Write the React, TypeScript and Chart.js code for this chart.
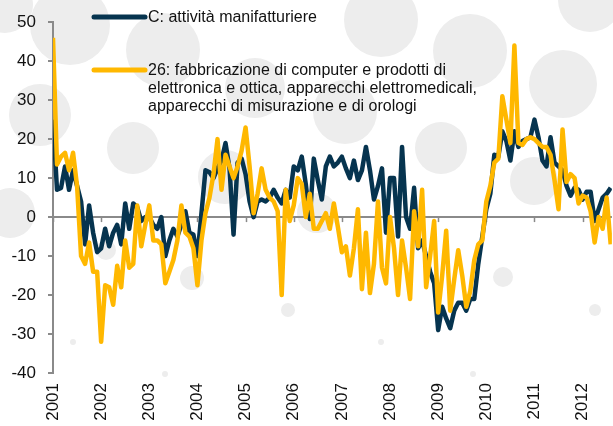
import React, { useEffect, useRef } from 'react';
import { Chart, registerables } from 'chart.js';

Chart.register(...registerables);

// Year tick labels (one tick every 12 months, starting January 2001)
const years = ['2001', '2002', '2003', '2004', '2005', '2006', '2007', '2008', '2009', '2010', '2011', '2012'];

// Series names (legend)
const navyName = 'C: attività manifatturiere';
const yellowNameLines = [
  '26: fabbricazione di computer e prodotti di',
  'elettronica e ottica, apparecchi elettromedicali,',
  'apparecchi di misurazione e di orologi',
];

// Monthly values, Jan 2001 .. Aug 2012
const navySeries = [
  25, 7, 7.5, 13, 7, 12, 8, 4, -7, 3, -4, -9,
  -8, -3, -7.5, -4, -2, -7, 3.5, -3, 3.5, 2.5, -1, 0,
  0, -2, -3, 0, -10, -6, -3, -5, -2, 1.5, -4, -4.5,
  -10, 1, 12, 11.5, 10, 12.5, 14.5, 19, 12.5, -4.5, 14, 15,
  11, 4, 0, 4, 4.5, 4, 5, 7, 5, 3.5, 7, 5,
  13, 12, 15.5, 8.5, -0.5, 15, 9.5, 4.5, 13, 15.5, 13, 14,
  15.5, 12.5, 10, 14.5, 9.5, 12, 18, 12, 4.5, 8, 12.5, -4,
  10, 10, -5, 18, 0, -3, 7.5, -8, -6, -10, -14, -17,
  -29, -23, -26, -28.5, -24, -22, -22, -24, -21, -21, -12, -5,
  2, 6, 16, 15.5, 22, 19.5, 14.5, 22, 18, 19.5, 20, 20.5,
  25, 20.5, 14.5, 13, 20.5, 14, 13, 12, 8, 5.5, 7.5, 7,
  4.5, 6.5, 6.5, -1, 2, 5, 6, 7.5,
];

const yellowSeries = [
  46, 13.5, 15.5, 16.5, 12, 16.5, 8, -10, -12, -6.5, -14, -14,
  -32, -17.5, -18, -22.5, -12.5, -18, -6, -13, -12, 3, -7.5, -2,
  3, -6, -6, -7, -17, -14, -11, -6, 3, -4, -5, -8,
  -17.5, -6, 1, 5, 11, 20, 7, 16, 13, 10, 13, 17,
  23, 13, 1, 6, 12.5, 7, 5, 4, 1.5, -20, 7, -1,
  3, 10, 8.5, 0, 6, -3, -3, -1, 1, -3, 3.5, -2.5,
  -9, -7.5, -15, -8, 2, -18.5, -4, -19.5, -12, 4, -13, -17,
  0, -8, -20, -6, -13, -21, 1.5, -7.5, 7, -18, -10, -1,
  -24.5, -15, -3.5, -24, -16, -8.5, -15, -23, -19, -11, -7, -6,
  4, 8, 14, 15, 31, 25, 19, 44, 19, 18.5, 20, 20.5,
  20, 19, 18, 18, 16, 9.5, 2, 22.5, 9, 11, 10, 3.5,
  5.5, 5, 1.5, -6.5, 0, -3, 5, -7,
];

const NAVY = '#06344f';
const YELLOW = '#ffb800';
const AXIS = '#8a8a8a';
const FONT = "'Liberation Sans', Arial, Helvetica, sans-serif";

// decorative background dots (x, y, r in px)
const bgDots: [number, number, number][] = [
  [5, 5, 28], [70, 25, 40], [163, 50, 37], [40, 115, 31], [133, 148, 26], [10, 213, 25],
  [255, 88, 30], [225, 177, 27], [345, 112, 32], [381, 20, 37], [470, 51, 37], [590, 0, 32],
  [563, 84, 34], [441, 148, 26], [534, 181, 24], [317, 213, 20], [106, 250, 10], [192, 278, 12],
  [503, 277, 10], [288, 310, 7], [595, 310, 6], [73, 342, 3], [381, 342, 3], [165, 374, 3], [473, 374, 3],
];

const bgPlugin = {
  id: 'bgDots',
  beforeDraw(chart: any) {
    const ctx = chart.ctx;
    ctx.save();
    ctx.fillStyle = '#ededed';
    bgDots.forEach(([x, y, r]) => {
      ctx.beginPath();
      ctx.arc(x, y, r, 0, Math.PI * 2);
      ctx.fill();
    });
    ctx.restore();
  },
};

const zeroTicksPlugin = {
  id: 'zeroTicks',
  beforeDatasetsDraw(chart: any) {
    const { ctx, scales } = chart;
    const x = scales.x;
    const y = scales.y;
    const y0 = y.getPixelForValue(0);
    ctx.save();
    ctx.strokeStyle = AXIS;
    ctx.lineWidth = 1.5;
    x.ticks.forEach((t: any) => {
      const px = Math.round(x.getPixelForValue(t.value)) + 0.5;
      ctx.beginPath();
      ctx.moveTo(px, y0);
      ctx.lineTo(px, y0 + 5);
      ctx.stroke();
    });
    ctx.restore();
  },
};

const legendPlugin = {
  id: 'customLegend',
  afterDraw(chart: any) {
    const ctx = chart.ctx;
    ctx.save();
    ctx.lineWidth = 5;
    ctx.lineCap = 'round';
    ctx.strokeStyle = NAVY;
    ctx.beginPath();
    ctx.moveTo(94, 17);
    ctx.lineTo(145, 17);
    ctx.stroke();
    ctx.strokeStyle = YELLOW;
    ctx.beginPath();
    ctx.moveTo(94, 70);
    ctx.lineTo(145, 70);
    ctx.stroke();
    ctx.fillStyle = '#111';
    ctx.font = `16px ${FONT}`;
    ctx.textBaseline = 'middle';
    ctx.textAlign = 'left';
    ctx.fillText(navyName, 148, 18);
    yellowNameLines.forEach((line, i) => {
      ctx.fillText(line, 148, 71 + i * 18);
    });
    ctx.restore();
  },
};

export default function App() {
  const ref = useRef<HTMLCanvasElement>(null);

  useEffect(() => {
    const canvas = ref.current;
    if (!canvas) return;
    Chart.defaults.font.family = FONT;
    const chart = new Chart(canvas, {
      type: 'line',
      data: {
        datasets: [
          {
            label: navyName,
            data: navySeries.map((v, i) => ({ x: i, y: v })),
            borderColor: NAVY,
            borderWidth: 4.5,
            pointRadius: 0,
            tension: 0,
            borderJoinStyle: 'round',
            order: 2,
          },
          {
            label: yellowNameLines.join(' '),
            data: yellowSeries.map((v, i) => ({ x: i, y: v })),
            borderColor: YELLOW,
            borderWidth: 4.5,
            pointRadius: 0,
            tension: 0,
            borderJoinStyle: 'round',
            order: 1,
          },
        ],
      },
      options: {
        responsive: false,
        animation: false,
        devicePixelRatio: 1,
        layout: { padding: { top: 20, right: 0, left: 0, bottom: 0 } },
        plugins: { legend: { display: false }, tooltip: { enabled: false } },
        scales: {
          x: {
            type: 'linear',
            min: 0,
            max: 139.3,
            position: 'bottom',
            afterBuildTicks: (axis: any) => {
              axis.ticks = years.map((_, i) => ({ value: i * 12 }));
            },
            ticks: {
              callback: (v: any) => years[Math.round(Number(v) / 12)],
              minRotation: 90,
              maxRotation: 90,
              autoSkip: false,
              padding: 10,
              color: '#111',
              font: { size: 17, family: FONT },
            },
            grid: { display: false, drawTicks: false },
            border: { display: false },
            afterFit: (s: any) => {
              s.height = 53;
            },
          },
          y: {
            min: -40,
            max: 50,
            ticks: {
              stepSize: 10,
              padding: 12,
              color: '#111',
              font: { size: 17, family: FONT },
            },
            grid: {
              color: (c: any) => (c.tick && c.tick.value === 0 ? AXIS : 'rgba(0,0,0,0)'),
              lineWidth: 2,
              tickColor: AXIS,
              tickLength: 5,
              tickWidth: 2,
            },
            border: { color: AXIS, width: 2 },
            afterFit: (s: any) => {
              s.width = 53;
            },
          },
        },
      },
      plugins: [bgPlugin, zeroTicksPlugin, legendPlugin],
    } as any);
    return () => chart.destroy();
  }, []);

  return (
    <div style={{ position: 'fixed', left: 0, top: 0, width: 613, height: 426, background: '#fff' }}>
      <canvas ref={ref} width={613} height={426} style={{ display: 'block', width: 613, height: 426 }} />
    </div>
  );
}
